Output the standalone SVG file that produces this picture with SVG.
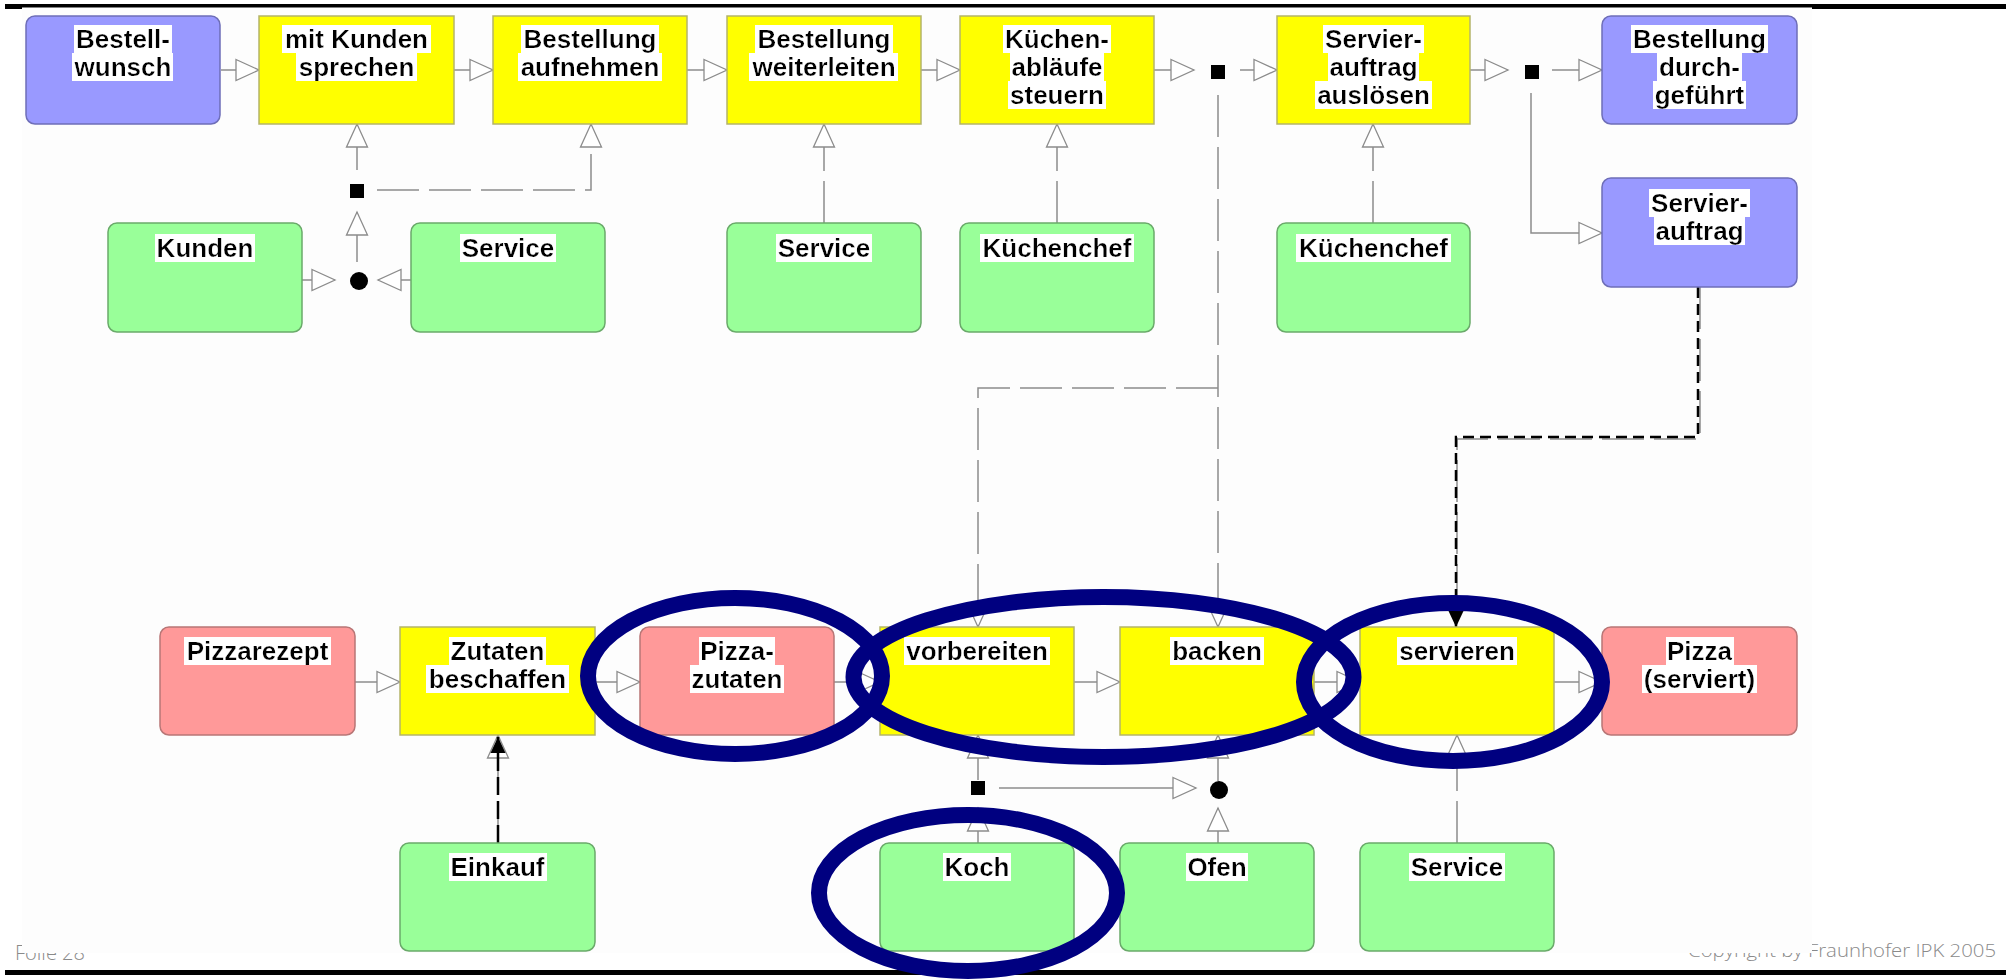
<svg xmlns="http://www.w3.org/2000/svg" width="2011" height="979" viewBox="0 0 2011 979">
  <style>
    .lbl { font-family: "Liberation Sans", Arial, sans-serif; font-size: 26px; font-weight: bold; fill: #000; text-anchor: middle; filter: url(#hl); }
    .act { fill: #ffff00; stroke: #b4b46a; stroke-width: 1.5; }
    .obj { fill: #9999ff; stroke: #6e6eb8; stroke-width: 1.5; }
    .red { fill: #ff9999; stroke: #b87676; stroke-width: 1.5; }
    .res { fill: #99ff99; stroke: #6aaa6a; stroke-width: 1.5; }
    .flow { fill: none; stroke: #8c8c8c; stroke-width: 1.5; marker-end: url(#open); }
    .link { fill: none; stroke: #8c8c8c; stroke-width: 1.5; stroke-dasharray: 42 10; }
    .linka { fill: none; stroke: #8c8c8c; stroke-width: 1.5; stroke-dasharray: 42 10; marker-end: url(#open); }
    .ink { fill: none; stroke: #000; stroke-width: 2.5; marker-end: url(#solid); }
    .ring { fill: none; stroke: #000080; stroke-width: 16; }
    .foot { font-family: "Open Sans", "Liberation Sans", sans-serif; font-weight: 300; fill: #8a8a8a; }
  </style>
  <defs>
    <!-- white highlight behind each label line -->
    <filter id="hl" x="-0.015" y="0.06" width="1.03" height="0.9">
      <feFlood flood-color="#ffffff" result="bg"/>
      <feMerge>
        <feMergeNode in="bg"/>
        <feMergeNode in="SourceGraphic"/>
      </feMerge>
    </filter>
    <marker id="open" markerUnits="userSpaceOnUse" markerWidth="26" markerHeight="24" refX="23" refY="10.5" orient="auto" overflow="visible">
      <path d="M0,0 L23,10.5 L0,21 Z" fill="#ffffff" stroke="#8c8c8c" stroke-width="1.3" stroke-dasharray="none"/>
    </marker>
    <marker id="solid" markerUnits="userSpaceOnUse" markerWidth="18" markerHeight="16" refX="16" refY="7.5" orient="auto" overflow="visible">
      <path d="M0,0 L16,7.5 L0,15 Z" fill="#000000" stroke="none"/>
    </marker>
  </defs>

  <rect width="2011" height="979" fill="#ffffff"/>

  <!-- slide footer -->
  <g id="footer">
    <text class="foot" x="15" y="960" font-size="21" textLength="70" lengthAdjust="spacingAndGlyphs">Folie 28</text>
    <text class="foot" x="1688" y="957" font-size="18" textLength="308" lengthAdjust="spacingAndGlyphs">Copyright by Fraunhofer IPK 2005</text>
    <rect x="5" y="4" width="2001" height="5" fill="#000"/>
    <rect x="5" y="970" width="2001" height="5" fill="#000"/>
  </g>

  <!-- diagram canvas -->
  <rect x="22" y="7.5" width="1790" height="945.5" fill="#fdfdfd"/>

  <g id="connectors">
    <!-- order flow, top row -->
    <path class="flow" d="M221,70 H259"/>
    <path class="flow" d="M454,70 H493"/>
    <path class="flow" d="M687,70 H727"/>
    <path class="flow" d="M921,70 H960"/>
    <path class="flow" d="M1154,70 H1194"/>
    <path class="flow" d="M1240,70 H1277"/>
    <path class="flow" d="M1470,70 H1508"/>
    <path class="flow" d="M1552,70 H1602"/>
    <path class="flow" d="M1531,93 V233 H1602"/>

    <!-- customer contact junction -->
    <path class="flow" d="M302,280 H335"/>
    <path class="flow" d="M411,280 H378"/>
    <path class="flow" d="M357,262 V212"/>
    <path class="flow" d="M357,170 V124"/>
    <path class="linka" d="M377,190 H591 V124"/>

    <!-- resources, top row -->
    <path class="linka" d="M824,223 V124"/>
    <path class="linka" d="M1057,223 V124"/>
    <path class="linka" d="M1373,223 V124"/>

    <!-- kitchen control down to the process -->
    <path class="linka" d="M1218,95 V627"/>
    <path class="linka" d="M1218,388 H978 V627"/>

    <!-- serving order to serving -->
    <path class="link" d="M1700,287 V439 H1457 V612"/>
    <path class="ink" d="M1698,287 V437 H1456 V627" stroke-dasharray="11 6"/>

    <!-- pizza process flow -->
    <path class="flow" d="M355,682 H400"/>
    <path class="flow" d="M595,682 H640"/>
    <path class="flow" d="M834,682 H880"/>
    <path class="flow" d="M1074,682 H1120"/>
    <path class="flow" d="M1314,682 H1360"/>
    <path class="flow" d="M1554,682 H1602"/>

    <!-- purchasing -->
    <path class="linka" d="M498,843 V735"/>
    <path class="ink" d="M498,843 V737" stroke-dasharray="18 6"/>

    <!-- cook / oven junctions -->
    <path class="flow" d="M978,843 V808"/>
    <path class="flow" d="M978,780 V735"/>
    <path class="flow" d="M999,788 H1196"/>
    <path class="flow" d="M1218,781 V735"/>
    <path class="flow" d="M1218,843 V808"/>
    <path class="linka" d="M1457,843 V735"/>
  </g>

  <g id="junctions">
    <rect id="j_and1" x="350" y="184" width="14" height="14" fill="#000"/>
    <circle id="j_or1" cx="359" cy="281" r="9" fill="#000"/>
    <rect id="j_and2" x="1211" y="65" width="14" height="14" fill="#000"/>
    <rect id="j_and3" x="1525" y="65" width="14" height="14" fill="#000"/>
    <rect id="j_and4" x="971" y="781" width="14" height="14" fill="#000"/>
    <circle id="j_or2" cx="1219" cy="790" r="9" fill="#000"/>
  </g>

  <!-- top row -->
  <g id="n_bestellwunsch">
    <rect class="obj" x="26" y="16" width="194" height="108" rx="9"/>
    <text class="lbl" x="123" y="48">Bestell-</text>
    <text class="lbl" x="123" y="76">wunsch</text>
  </g>
  <g id="n_mitkunden">
    <rect class="act" x="259" y="16" width="195" height="108"/>
    <text class="lbl" x="356.5" y="48">mit Kunden</text>
    <text class="lbl" x="356.5" y="76">sprechen</text>
  </g>
  <g id="n_aufnehmen">
    <rect class="act" x="493" y="16" width="194" height="108"/>
    <text class="lbl" x="590" y="48">Bestellung</text>
    <text class="lbl" x="590" y="76">aufnehmen</text>
  </g>
  <g id="n_weiterleiten">
    <rect class="act" x="727" y="16" width="194" height="108"/>
    <text class="lbl" x="824" y="48">Bestellung</text>
    <text class="lbl" x="824" y="76">weiterleiten</text>
  </g>
  <g id="n_kuechenablaeufe">
    <rect class="act" x="960" y="16" width="194" height="108"/>
    <text class="lbl" x="1057" y="48">Küchen-</text>
    <text class="lbl" x="1057" y="76">abläufe</text>
    <text class="lbl" x="1057" y="104">steuern</text>
  </g>
  <g id="n_servierausloesen">
    <rect class="act" x="1277" y="16" width="193" height="108"/>
    <text class="lbl" x="1373.5" y="48">Servier-</text>
    <text class="lbl" x="1373.5" y="76">auftrag</text>
    <text class="lbl" x="1373.5" y="104">auslösen</text>
  </g>
  <g id="n_durchgefuehrt">
    <rect class="obj" x="1602" y="16" width="195" height="108" rx="9"/>
    <text class="lbl" x="1699.5" y="48">Bestellung</text>
    <text class="lbl" x="1699.5" y="76">durch-</text>
    <text class="lbl" x="1699.5" y="104">geführt</text>
  </g>
  <g id="n_servierauftrag">
    <rect class="obj" x="1602" y="178" width="195" height="109" rx="9"/>
    <text class="lbl" x="1699.5" y="212">Servier-</text>
    <text class="lbl" x="1699.5" y="240">auftrag</text>
  </g>

  <!-- top resources -->
  <g id="n_kunden">
    <rect class="res" x="108" y="223" width="194" height="109" rx="9"/>
    <text class="lbl" x="205" y="257">Kunden</text>
  </g>
  <g id="n_service1">
    <rect class="res" x="411" y="223" width="194" height="109" rx="9"/>
    <text class="lbl" x="508" y="257">Service</text>
  </g>
  <g id="n_service2">
    <rect class="res" x="727" y="223" width="194" height="109" rx="9"/>
    <text class="lbl" x="824" y="257">Service</text>
  </g>
  <g id="n_kuechenchef1">
    <rect class="res" x="960" y="223" width="194" height="109" rx="9"/>
    <text class="lbl" x="1057" y="257">Küchenchef</text>
  </g>
  <g id="n_kuechenchef2">
    <rect class="res" x="1277" y="223" width="193" height="109" rx="9"/>
    <text class="lbl" x="1373.5" y="257">Küchenchef</text>
  </g>

  <!-- pizza process -->
  <g id="n_pizzarezept">
    <rect class="red" x="160" y="627" width="195" height="108" rx="9"/>
    <text class="lbl" x="257.5" y="660">Pizzarezept</text>
  </g>
  <g id="n_zutatenbeschaffen">
    <rect class="act" x="400" y="627" width="195" height="108"/>
    <text class="lbl" x="497.5" y="660">Zutaten</text>
    <text class="lbl" x="497.5" y="688">beschaffen</text>
  </g>
  <g id="n_pizzazutaten">
    <rect class="red" x="640" y="627" width="194" height="108" rx="9"/>
    <text class="lbl" x="737" y="660">Pizza-</text>
    <text class="lbl" x="737" y="688">zutaten</text>
  </g>
  <g id="n_vorbereiten">
    <rect class="act" x="880" y="627" width="194" height="108"/>
    <text class="lbl" x="977" y="660">vorbereiten</text>
  </g>
  <g id="n_backen">
    <rect class="act" x="1120" y="627" width="194" height="108"/>
    <text class="lbl" x="1217" y="660">backen</text>
  </g>
  <g id="n_servieren">
    <rect class="act" x="1360" y="627" width="194" height="108"/>
    <text class="lbl" x="1457" y="660">servieren</text>
  </g>
  <g id="n_pizza">
    <rect class="red" x="1602" y="627" width="195" height="108" rx="9"/>
    <text class="lbl" x="1699.5" y="660">Pizza</text>
    <text class="lbl" x="1699.5" y="688">(serviert)</text>
  </g>

  <!-- process resources -->
  <g id="n_einkauf">
    <rect class="res" x="400" y="843" width="195" height="108" rx="9"/>
    <text class="lbl" x="497.5" y="876">Einkauf</text>
  </g>
  <g id="n_koch">
    <rect class="res" x="880" y="843" width="194" height="108" rx="9"/>
    <text class="lbl" x="977" y="876">Koch</text>
  </g>
  <g id="n_ofen">
    <rect class="res" x="1120" y="843" width="194" height="108" rx="9"/>
    <text class="lbl" x="1217" y="876">Ofen</text>
  </g>
  <g id="n_service3">
    <rect class="res" x="1360" y="843" width="194" height="108" rx="9"/>
    <text class="lbl" x="1457" y="876">Service</text>
  </g>

  <!-- highlight rings -->
  <g id="highlights">
    <ellipse class="ring" cx="735" cy="676" rx="147" ry="78"/>
    <ellipse class="ring" cx="1103.5" cy="677" rx="250" ry="80"/>
    <ellipse class="ring" cx="1453" cy="682" rx="149" ry="79"/>
    <ellipse class="ring" cx="968" cy="893" rx="149" ry="78"/>
  </g>
</svg>
